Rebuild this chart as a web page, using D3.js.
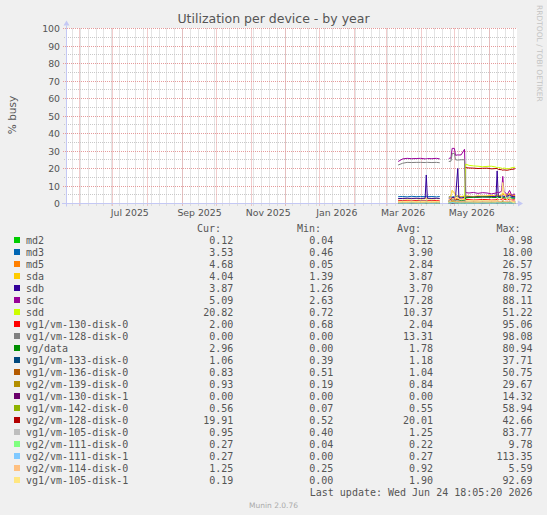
<!DOCTYPE html>
<html><head><meta charset="utf-8">
<script src="https://cdn.jsdelivr.net/npm/d3@7"></script>
<style>html,body{margin:0;padding:0;background:#f0f0f0;}svg{display:block}</style>
</head><body><svg id="c" width="547" height="515"></svg>
<script>
const dates = ["2026-03-12","2026-03-16","2026-03-20","2026-03-24","2026-03-28","2026-04-01","2026-04-05","2026-04-06","2026-04-07","2026-04-11","2026-04-15","2026-04-18","2026-04-22","2026-04-26","2026-04-28","2026-04-29","2026-05-01","2026-05-02","2026-05-04","2026-05-05","2026-05-07","2026-05-10","2026-05-11","2026-05-14","2026-05-18","2026-05-22","2026-05-26","2026-05-30","2026-06-03","2026-06-07","2026-06-08","2026-06-09","2026-06-12","2026-06-13","2026-06-14","2026-06-17","2026-06-19","2026-06-21","2026-06-23","2026-06-24"];

const names = ["md2","md3","md5","sda","sdb","sdc","sdd","vg1/vm-130-disk-0","vg1/vm-128-disk-0","vg/data","vg1/vm-133-disk-0","vg1/vm-136-disk-0","vg2/vm-139-disk-0","vg1/vm-130-disk-1","vg1/vm-142-disk-0","vg2/vm-128-disk-0","vg1/vm-105-disk-0","vg2/vm-111-disk-0","vg2/vm-111-disk-1","vg2/vm-114-disk-0","vg1/vm-105-disk-1"];
const colors = ["#00CC00","#0066B3","#FF8000","#FFCC00","#330099","#990099","#CCFF00","#FF0000","#808080","#008F00","#00487D","#B35A00","#B38F00","#6B006B","#8FB300","#B30000","#BEBEBE","#80FF80","#80C9FF","#FFC080","#FFE680"];

const curVals = ["0.12","3.53","4.68","4.04","3.87","5.09","20.82","2.00","0.00","2.96","1.06","0.83","0.93","0.00","0.56","19.91","0.95","0.27","0.27","1.25","0.19"];
const minVals = ["0.04","0.46","0.05","1.39","1.26","2.63","0.72","0.68","0.00","0.00","0.39","0.51","0.19","0.00","0.07","0.52","0.40","0.04","0.00","0.25","0.00"];
const avgVals = ["0.12","3.90","2.84","3.87","3.70","17.28","10.37","2.04","13.31","1.78","1.18","1.04","0.84","0.00","0.55","20.01","1.25","0.22","0.27","0.92","1.90"];
const maxVals = ["0.98","18.00","26.57","78.95","80.72","88.11","51.22","95.06","98.08","80.94","37.71","50.75","29.67","14.32","58.94","42.66","83.77","9.78","113.35","5.59","92.69"];

const md2 = [0.10,0.12,0.11,0.13,0.12,0.10,0.12,0.14,0.11,0.12,0.13,0.12,null,0.12,0.11,0.13,0.12,0.10,0.14,0.12,0.11,0.13,0.12,0.12,0.11,0.13,0.12,0.10,0.12,0.13,0.14,0.12,0.11,0.13,0.12,0.11,0.12,0.13,0.12,0.12];
const md3 = [3.9,4.0,3.8,4.1,3.9,4.0,3.9,4.2,3.9,4.0,3.8,4.0,null,3.8,4.1,3.7,4.0,3.9,4.2,3.8,3.9,4.0,3.7,3.8,3.9,3.7,4.0,3.8,3.9,3.6,4.1,3.8,3.7,3.9,3.6,3.8,3.7,3.5,3.6,3.53];
const md5 = [1.2,1.1,1.3,1.2,1.0,1.2,1.1,1.5,1.2,1.1,1.3,1.2,null,2.0,2.4,3.5,3.0,2.6,3.2,2.8,2.5,2.7,3.5,3.8,4.0,3.9,4.2,4.1,4.4,4.3,4.8,4.5,4.6,5.5,4.9,4.6,5.0,4.7,4.6,4.68];
const sda = [2.7,2.8,2.6,2.7,2.8,2.6,2.7,3.0,2.7,2.6,2.8,2.7,null,3.5,4.5,7.5,6.0,4.0,4.5,4.2,4.0,4.3,4.5,4.2,4.0,4.4,4.1,4.3,4.5,4.0,5.0,4.3,4.8,6.0,5.5,4.5,6.0,4.2,4.1,4.04];
const sdb = [2.8,2.9,3.0,2.9,3.0,2.9,3.0,16.3,3.0,2.9,3.0,2.9,null,3.0,3.2,3.5,3.3,3.5,20.0,3.4,3.2,3.5,3.6,3.8,3.6,3.9,3.7,3.8,4.0,3.9,18.6,4.0,4.2,4.5,4.0,4.3,4.8,4.0,3.9,3.87];
const sdc = [24.0,25.5,25.8,25.6,25.7,25.8,25.5,25.6,25.7,25.6,25.8,25.5,null,25.8,26.0,31.5,31.5,27.5,27.8,27.7,27.8,31.0,6.2,6.0,6.3,5.8,6.2,6.0,5.5,6.0,6.5,6.0,7.0,15.5,7.0,5.0,7.5,4.5,5.5,5.09];
const sdd = [0.9,1.0,0.8,0.9,1.0,0.9,0.8,1.1,0.9,1.0,0.8,0.9,null,1.0,1.2,1.5,1.3,1.1,1.4,1.2,1.1,1.0,22.5,21.8,21.5,21.3,21.0,21.2,21.3,20.8,20.5,20.6,20.2,20.0,20.3,19.8,20.0,20.5,20.6,20.82];
const vg1vm130d0 = [1.6,1.7,1.5,1.6,1.7,1.6,1.5,1.8,1.6,1.7,1.6,1.5,null,1.9,2.2,2.5,2.3,2.1,2.4,2.2,2.0,2.1,2.3,2.2,2.0,2.1,2.3,2.2,2.0,2.1,2.6,2.2,2.3,3.0,2.4,2.1,2.5,2.0,2.1,2.00];
const vg1vm128d0 = [22.0,23.0,23.5,23.4,23.5,23.5,23.4,23.5,23.5,23.4,23.5,23.3,null,24.0,24.2,28.5,28.7,25.0,24.8,24.9,25.0,25.0,0,0,0,0,0,0,0,0,0,0,0,0,0,0,0,0,0,0];
const vgdata = [1.0,1.1,0.9,1.0,1.1,1.0,0.9,1.2,1.0,1.1,0.9,1.0,null,1.5,1.8,2.2,2.0,1.7,2.1,1.9,1.6,1.8,3.2,3.4,3.6,3.5,3.8,3.7,3.5,3.4,3.9,3.5,3.3,3.6,3.2,3.0,3.4,3.1,3.0,2.96];
const vg1vm133d0 = [1.1,1.2,1.0,1.2,1.1,1.3,1.2,1.4,1.1,1.2,1.0,1.1,null,1.3,1.5,1.8,1.6,1.3,1.4,1.2,1.1,1.3,1.2,1.1,1.2,1.0,1.3,1.2,1.1,1.2,1.5,1.1,1.2,1.6,1.1,1.0,1.3,1.0,1.1,1.06];
const vg1vm136d0 = [0.9,1.0,0.8,1.1,0.9,1.0,0.9,1.2,1.0,0.9,1.1,1.0,null,1.2,1.4,1.8,1.5,1.2,1.3,1.1,1.0,1.2,1.0,0.9,1.1,1.0,0.9,1.0,1.1,0.9,1.3,1.0,0.9,1.4,1.0,0.8,1.1,0.9,0.8,0.83];
const vg2vm139d0 = [0.7,0.8,0.7,0.9,0.8,0.7,0.8,1.0,0.8,0.7,0.9,0.8,null,0.9,1.1,1.4,1.2,0.9,1.0,0.8,0.8,0.9,0.8,0.9,0.8,0.7,0.9,0.8,0.9,0.8,1.1,0.9,0.8,1.2,0.9,0.8,1.0,0.9,0.9,0.93];
const vg1vm130d1 = [0,0,0,0,0,0,0,0,0,0,0,0,null,0,0,0,0,0,0,0,0,0,0,0,0,0,0,0,0,0,0,0,0,0,0,0,0,0,0,0];
const vg1vm142d0 = [0.5,0.6,0.5,0.6,0.5,0.6,0.5,0.7,0.5,0.6,0.5,0.6,null,0.6,0.7,0.9,0.8,0.6,0.7,0.5,0.5,0.6,0.5,0.6,0.5,0.5,0.6,0.5,0.6,0.5,0.7,0.5,0.6,0.8,0.5,0.5,0.6,0.5,0.6,0.56];
const vg2vm128d0 = [null,null,null,null,null,null,null,null,null,null,null,null,null,null,null,null,null,null,null,null,null,null,20.5,20.3,20.2,20.0,20.1,20.2,19.8,20.0,20.0,19.5,19.3,19.0,19.2,19.0,19.3,19.5,19.7,19.91];
const vg1vm105d0 = [1.2,1.3,1.1,1.3,1.2,1.4,1.2,1.5,1.2,1.3,1.1,1.2,null,1.5,1.8,2.5,2.0,1.5,1.7,1.4,1.3,1.4,1.2,1.1,1.3,1.2,1.0,1.2,1.1,1.0,1.4,1.1,1.0,1.6,1.1,1.0,1.2,0.9,1.0,0.95];
const vg2vm111d0 = [0.2,0.2,0.2,0.3,0.2,0.2,0.2,0.3,0.2,0.2,0.2,0.2,null,0.2,0.3,0.4,0.3,0.2,0.3,0.2,0.2,0.2,0.2,0.2,0.2,0.2,0.3,0.2,0.2,0.2,0.3,0.2,0.2,0.3,0.2,0.2,0.2,0.2,0.2,0.27];
const vg2vm111d1 = [0.3,0.3,0.2,0.3,0.3,0.2,0.3,0.4,0.3,0.2,0.3,0.3,null,0.3,0.3,0.5,0.4,0.3,0.3,0.2,0.3,0.3,0.2,0.3,0.3,0.2,0.3,0.3,0.2,0.3,0.4,0.3,0.2,0.3,0.3,0.2,0.3,0.3,0.2,0.27];
const vg2vm114d0 = [0.7,0.8,0.7,0.9,0.8,0.7,0.8,1.0,0.8,0.7,0.9,0.8,null,1.0,1.2,1.6,1.3,1.0,1.1,0.9,0.9,1.0,0.9,1.0,0.9,0.8,1.0,0.9,1.0,0.9,1.2,1.0,1.1,2.5,1.2,1.0,1.5,1.1,1.2,1.25];
const vg1vm105d1 = [1.0,1.2,1.1,1.3,1.0,1.2,1.1,1.4,1.0,1.2,1.1,1.0,null,2.0,3.5,7.0,5.5,3.0,3.5,2.5,2.2,2.5,1.8,1.5,1.6,1.4,1.7,1.5,1.6,1.4,2.0,1.8,3.0,12.0,6.0,2.0,4.0,1.0,0.5,0.19];

const seriesValues = [md2,md3,md5,sda,sdb,sdc,sdd,vg1vm130d0,vg1vm128d0,vgdata,vg1vm133d0,vg1vm136d0,vg2vm139d0,vg1vm130d1,vg1vm142d0,vg2vm128d0,vg1vm105d0,vg2vm111d0,vg2vm111d1,vg2vm114d0,vg1vm105d1];

const yTicks = [0,10,20,30,40,50,60,70,80,90,100];
const titleText = "Utilization per device - by year";
const yLabel = "% busy";
const lastUpdate = "Last update: Wed Jun 24 18:05:20 2026";
const footer = "Munin 2.0.76";
const watermark = "RRDTOOL / TOBI OETIKER";

const svg = d3.select("#c");
const parse = d3.timeParse("%Y-%m-%d");
const dts = dates.map(parse);
const end = new Date(2026,5,24,18,5,20);
const start = d3.timeDay.offset(end,-400);
const L = 66, R = 516, T = 28.5, B = 203.5;
const x = d3.scaleTime().domain([start,end]).range([L,R]);
const y = d3.scaleLinear().domain([0,100]).range([B,T]);
const sans = "DejaVu Sans", mono = "DejaVu Sans Mono";

svg.append("rect").attr("width",547).attr("height",515).attr("fill","#f0f0f0");
svg.append("rect").attr("x",L).attr("y",28).attr("width",R-L+1).attr("height",176).attr("fill","#fff");

const px = v => Math.round(v)+0.5;
const g = svg.append("g");
const minorCol = "#c8c8c8", majorCol = "#e59a9a";
// minor grid
const minorX = d3.timeMonday.range(start,end);
g.selectAll(".mx").data(minorX).enter().append("line")
 .attr("x1",d=>px(x(d))).attr("x2",d=>px(x(d))).attr("y1",T).attr("y2",B+2)
 .attr("stroke",minorCol).attr("stroke-dasharray","1,1");
const minorY = d3.range(5,100,10);
g.selectAll(".my").data(minorY).enter().append("line")
 .attr("x1",L-2).attr("x2",R).attr("y1",d=>Math.floor(y(d))+0.5).attr("y2",d=>Math.floor(y(d))+0.5)
 .attr("stroke",minorCol).attr("stroke-dasharray","1,1");
// major grid
const majorX = d3.timeMonth.range(start,end);
g.selectAll(".Mx").data(majorX).enter().append("line")
 .attr("x1",d=>px(x(d))).attr("x2",d=>px(x(d))).attr("y1",T).attr("y2",B+3)
 .attr("stroke",majorCol).attr("stroke-dasharray","1,1");
g.selectAll(".My").data(yTicks.filter(v=>v>0)).enter().append("line")
 .attr("x1",L-3).attr("x2",R).attr("y1",d=>Math.floor(y(d))+0.5).attr("y2",d=>Math.floor(y(d))+0.5)
 .attr("stroke",majorCol).attr("stroke-dasharray","1,1");

// axes lines
const ax = "#c4c8f4";
svg.append("line").attr("x1",L-4).attr("x2",R+2).attr("y1",B).attr("y2",B).attr("stroke",ax);
svg.append("line").attr("x1",L+0.5).attr("x2",L+0.5).attr("y1",B+3).attr("y2",T-3).attr("stroke",ax);
svg.append("path").attr("d",`M${R+2},${B-3} L${R+7},${B} L${R+2},${B+3} Z`).attr("fill",ax);
svg.append("path").attr("d",`M${L-2.5},${T-3} L${L+0.5},${T-8} L${L+3.5},${T-3} Z`).attr("fill",ax);

// series
const line = d3.line().defined(d=>d.v!=null).x(d=>x(d.t)).y(d=>y(d.v));
seriesValues.forEach((vals,i)=>{
  const data = vals.map((v,j)=>({t:dts[j],v:v}));
  svg.append("path").attr("d",line(data)).attr("fill","none")
   .attr("stroke",colors[i]).attr("stroke-width",1);
});

// y axis labels
const yAxis = d3.axisLeft(y).tickValues(yTicks).tickSize(0).tickPadding(6);
const ya = svg.append("g").attr("transform",`translate(${L},0)`).call(yAxis);
ya.select(".domain").remove();
ya.selectAll("text").attr("font-family",sans).attr("font-size","9.33px").attr("fill","#555");

// x axis labels
const labelDates = d3.timeMonth.every(2).range(start,end).map(d=>d3.timeDay.offset(d,15));
const xAxis = d3.axisBottom(x).tickValues(labelDates).tickFormat(d3.timeFormat("%b %Y")).tickSize(0).tickPadding(6);
const xa = svg.append("g").attr("transform",`translate(0,${B})`).call(xAxis);
xa.select(".domain").remove();
xa.selectAll("text").attr("font-family",sans).attr("font-size","9.33px").attr("fill","#555");

// title
svg.append("text").attr("x",273.5).attr("y",22.5).attr("text-anchor","middle")
 .attr("font-family",sans).attr("font-size","12.5px").attr("fill","#555").text(titleText);
svg.append("text").attr("transform","translate(15.5,115) rotate(-90)").attr("text-anchor","middle")
 .attr("font-family",sans).attr("font-size","10.5px").attr("fill","#555").text(yLabel);
svg.append("text").attr("transform","translate(537,5) rotate(90)").attr("text-anchor","start")
 .attr("font-family",sans).attr("font-size","7.5px").attr("fill","#c4c4c4").text(watermark);

// legend
const lg = svg.append("g").attr("font-family",mono).attr("font-size","10px").attr("fill","#555");
[["Cur:",221],["Min:",321],["Avg:",421],["Max:",520.5]].forEach(([t,xx])=>{
  lg.append("text").attr("x",xx).attr("y",231.5).attr("text-anchor","end").text(t);
});
const cols = [[curVals,233.3],[minVals,333.3],[avgVals,433],[maxVals,532.5]];
names.forEach((n,i)=>{
  const by = 243.5 + 12*i;
  lg.append("rect").attr("x",14).attr("y",by-6.5).attr("width",6).attr("height",6).attr("fill",colors[i]);
  lg.append("text").attr("x",26).attr("y",by).text(n);
  cols.forEach(([arr,xx])=>{
    lg.append("text").attr("x",xx).attr("y",by).attr("text-anchor","end").text(arr[i]);
  });
});
lg.append("text").attr("x",532.5).attr("y",495.5).attr("text-anchor","end").text(lastUpdate);
svg.append("text").attr("x",273.5).attr("y",508).attr("text-anchor","middle")
 .attr("font-family",sans).attr("font-size","7.5px").attr("fill","#aaa").text(footer);
</script></body></html>
